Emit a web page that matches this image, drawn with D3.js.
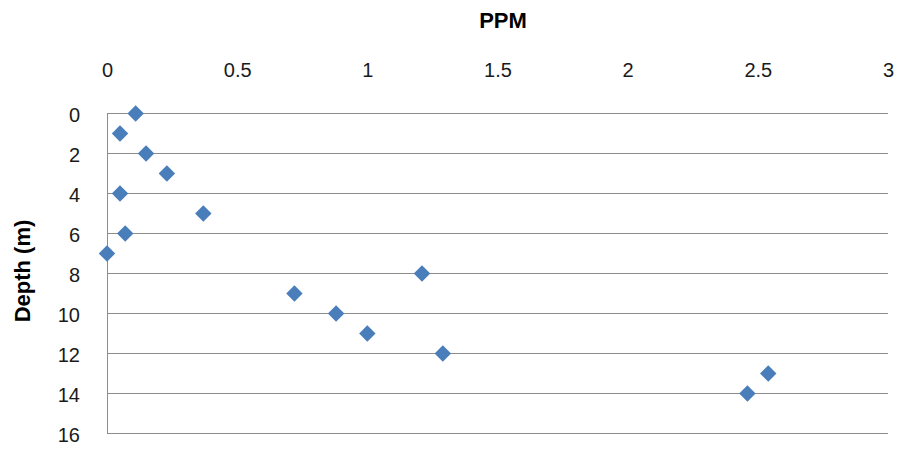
<!DOCTYPE html>
<html><head><meta charset="utf-8">
<script src="https://cdn.jsdelivr.net/npm/d3@7"></script>
<style>body{margin:0;background:#fff}svg{display:block}</style>
</head><body>
<svg id="c" width="898" height="451"></svg>
<script>
const depths = [0,1,2,3,4,5,6,7,8,9,10,11,12,13,14];
const ppm = [0.11,0.05,0.15,0.23,0.05,0.37,0.07,0.0,1.21,0.72,0.88,1.0,1.29,2.54,2.46];
const xTicks = [0,0.5,1,1.5,2,2.5,3];
const yTicks = [0,2,4,6,8,10,12,14,16];
const xTitle = "PPM";
const yTitle = "Depth (m)";

const svg = d3.select("#c");
const x = d3.scaleLinear().domain([0,3]).range([107,888]);
const y = d3.scaleLinear().domain([0,16]).range([113,433]);
const font = "'Liberation Sans', Arial, sans-serif";

// gridlines
svg.append("g").selectAll("line").data(yTicks).join("line")
  .attr("x1", x(0)).attr("x2", x(3))
  .attr("y1", d=>y(d)+0.5).attr("y2", d=>y(d)+0.5)
  .attr("stroke", "#8c8c8c").attr("stroke-width", 1);
// left axis line
svg.append("line").attr("x1", x(0)+0.5).attr("x2", x(0)+0.5)
  .attr("y1", y(0)).attr("y2", y(16)+1).attr("stroke", "#8c8c8c");

// x tick labels (top)
const xAxis = d3.axisTop(x).tickValues(xTicks).tickSize(0).tickPadding(0).tickFormat(d3.format("~g"));
const gx = svg.append("g").attr("transform", "translate(0,77)").call(xAxis);
gx.select(".domain").remove();
gx.selectAll("text").attr("font-family", font).attr("font-size", 20).attr("fill", "#1a1a1a").attr("dy", 0);

// y tick labels
const yAxis = d3.axisLeft(y).tickValues(yTicks).tickSize(0).tickPadding(0).tickFormat(d3.format("~g"));
const gy = svg.append("g").attr("transform", "translate(80,2)").call(yAxis);
gy.select(".domain").remove();
gy.selectAll("text").attr("font-family", font).attr("font-size", 20).attr("fill", "#1a1a1a");

// titles
svg.append("text").attr("x", 503).attr("y", 28).attr("text-anchor", "middle")
  .attr("font-family", font).attr("font-weight", "bold").attr("font-size", 22).attr("fill", "#000").text(xTitle);
svg.append("text").attr("transform", "translate(30,271) rotate(-90)").attr("text-anchor", "middle")
  .attr("font-family", font).attr("font-weight", "bold").attr("font-size", 22).attr("fill", "#000").text(yTitle);

// markers
const sym = d3.symbol().type(d3.symbolSquare).size(135);
svg.append("g").selectAll("path").data(depths.map((d,i)=>({d, v: ppm[i]}))).join("path")
  .attr("d", sym)
  .attr("transform", p => `translate(${x(p.v)},${y(p.d)+0.5}) rotate(45)`)
  .attr("fill", "#4a7ebb");
</script>
</body></html>
